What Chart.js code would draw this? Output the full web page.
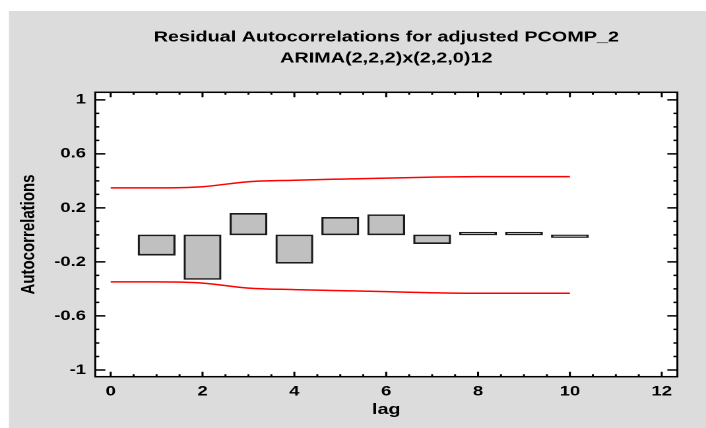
<!DOCTYPE html>
<html>
<head>
<meta charset="utf-8">
<script src="https://cdn.jsdelivr.net/npm/chart.js@4.4.0/dist/chart.umd.min.js"></script>
<style>
  html, body { margin: 0; padding: 0; background: #fff; overflow: hidden; }
  /* the reference is stretched sideways, so draw narrow and widen */
  #wrap { width: 535px; height: 428px; transform: scaleX(1.3196); transform-origin: 0 0; }
</style>
</head>
<body>
<div id="wrap"><canvas id="acf" width="535" height="428"></canvas></div>
<script>
// lags and residual autocorrelations
const lags = [1, 2, 3, 4, 5, 6, 7, 8, 9, 10];
const acf = [-0.15, -0.33, 0.16, -0.21, 0.13, 0.15, -0.065, 0.02, 0.02, -0.02];

// 95% probability limits
const limitLags = [0, 1, 2, 3, 4, 5, 6, 7, 8, 9, 10];
const upperLimit = [0.348, 0.348, 0.357, 0.394, 0.405, 0.413, 0.42, 0.428, 0.432, 0.432, 0.432];
const lowerLimit = [-0.348, -0.348, -0.357, -0.394, -0.405, -0.413, -0.42, -0.428, -0.432, -0.432, -0.432];

const xTicks = [0, 2, 4, 6, 8, 10, 12];
const yTicks = [-1, -0.6, -0.2, 0.2, 0.6, 1];

const fontFam = "'Liberation Sans', Arial, sans-serif";

// grey page, white plot, black frame with inward ticks on all sides
const frameAndTicks = {
  id: "frameAndTicks",
  beforeDraw(chart) {
    const ctx = chart.ctx;
    const a = chart.chartArea;
    ctx.save();
    ctx.fillStyle = "#ffffff";
    ctx.fillRect(0, 0, chart.width, chart.height);
    ctx.fillStyle = "#dcdcdc";
    ctx.fillRect(6.8, 11, chart.width - 6.8, chart.height - 11);
    ctx.fillStyle = "#ffffff";
    ctx.fillRect(a.left, a.top, a.right - a.left, a.bottom - a.top);
    ctx.restore();
  },
  afterDraw(chart) {
    const ctx = chart.ctx;
    const a = chart.chartArea;
    const xs = chart.scales.x;
    const ys = chart.scales.y;
    ctx.save();
    ctx.strokeStyle = "#000000";
    ctx.lineWidth = 1.5;
    ctx.beginPath();
    for (let i = 0; i <= 24; i++) {
      const v = i / 2;
      const px = xs.getPixelForValue(v);
      const len = xTicks.includes(v) ? 5 : 2.5;
      ctx.moveTo(px, a.bottom);
      ctx.lineTo(px, a.bottom - len);
      ctx.moveTo(px, a.top);
      ctx.lineTo(px, a.top + len);
    }
    for (let i = -10; i <= 10; i++) {
      const v = i / 10;
      const py = ys.getPixelForValue(v);
      const major = yTicks.some((t) => Math.abs(t - v) < 1e-6);
      const len = major ? 7.6 : 3;
      ctx.moveTo(a.left, py);
      ctx.lineTo(a.left + len, py);
      ctx.moveTo(a.right, py);
      ctx.lineTo(a.right - len, py);
    }
    ctx.stroke();
    ctx.strokeRect(a.left, a.top, a.right - a.left, a.bottom - a.top);
    ctx.restore();
  },
};

new Chart(document.getElementById("acf"), {
  type: "bar",
  data: {
    datasets: [
      {
        type: "bar",
        data: lags.map((l, i) => ({ x: l, y: acf[i] })),
        backgroundColor: "#c0c0c0",
        borderColor: "#1a1a1a",
        borderWidth: 1.6,
        borderSkipped: false,
        barThickness: 28,
      },
      {
        type: "line",
        data: limitLags.map((l, i) => ({ x: l, y: upperLimit[i] })),
        borderColor: "#ff0000",
        borderWidth: 1.5,
        pointRadius: 0,
        cubicInterpolationMode: "monotone",
      },
      {
        type: "line",
        data: limitLags.map((l, i) => ({ x: l, y: lowerLimit[i] })),
        borderColor: "#ff0000",
        borderWidth: 1.5,
        pointRadius: 0,
        cubicInterpolationMode: "monotone",
      },
    ],
  },
  options: {
    responsive: false,
    animation: false,
    devicePixelRatio: 2,
    layout: { padding: { top: 0, left: 0, right: 21.7, bottom: 0 } },
    plugins: {
      legend: { display: false },
      tooltip: { enabled: false },
      title: {
        display: true,
        fullSize: false,
        text: ["Residual Autocorrelations for adjusted PCOMP_2", "ARIMA(2,2,2)x(2,2,0)12"],
        color: "#000000",
        font: { family: fontFam, size: 15, weight: "bold", lineHeight: 1.4 },
        padding: { top: 27, bottom: 23.3 },
      },
    },
    scales: {
      x: {
        type: "linear",
        min: -0.335,
        max: 12.34,
        offset: false,
        grid: { display: false, drawTicks: false },
        border: { display: false },
        afterBuildTicks: (s) => {
          s.ticks = xTicks.map((v) => ({ value: v }));
        },
        afterFit: (s) => {
          s.height = 51.3;
        },
        ticks: {
          autoSkip: false,
          maxRotation: 0,
          padding: 6.6,
          color: "#000000",
          font: { family: fontFam, size: 14, weight: "bold" },
          callback: (v) => String(v),
        },
        title: {
          display: true,
          text: "lag",
          color: "#000000",
          font: { family: fontFam, size: 15, weight: "bold" },
          padding: { top: 0, bottom: 9 },
        },
      },
      y: {
        type: "linear",
        min: -1.05,
        max: 1.056,
        grid: { display: false, drawTicks: false },
        border: { display: false },
        afterBuildTicks: (s) => {
          s.ticks = yTicks.map((v) => ({ value: v }));
        },
        afterFit: (s) => {
          s.width = 72.2;
        },
        ticks: {
          autoSkip: false,
          padding: 7,
          color: "#000000",
          font: { family: fontFam, size: 14, weight: "bold" },
          callback: (v) => String(v),
        },
        title: {
          display: true,
          text: "Autocorrelations",
          color: "#000000",
          font: { family: fontFam, size: 15, weight: "bold" },
          padding: { top: 13, bottom: 0 },
        },
      },
    },
  },
  plugins: [frameAndTicks],
});
</script>
</body>
</html>
